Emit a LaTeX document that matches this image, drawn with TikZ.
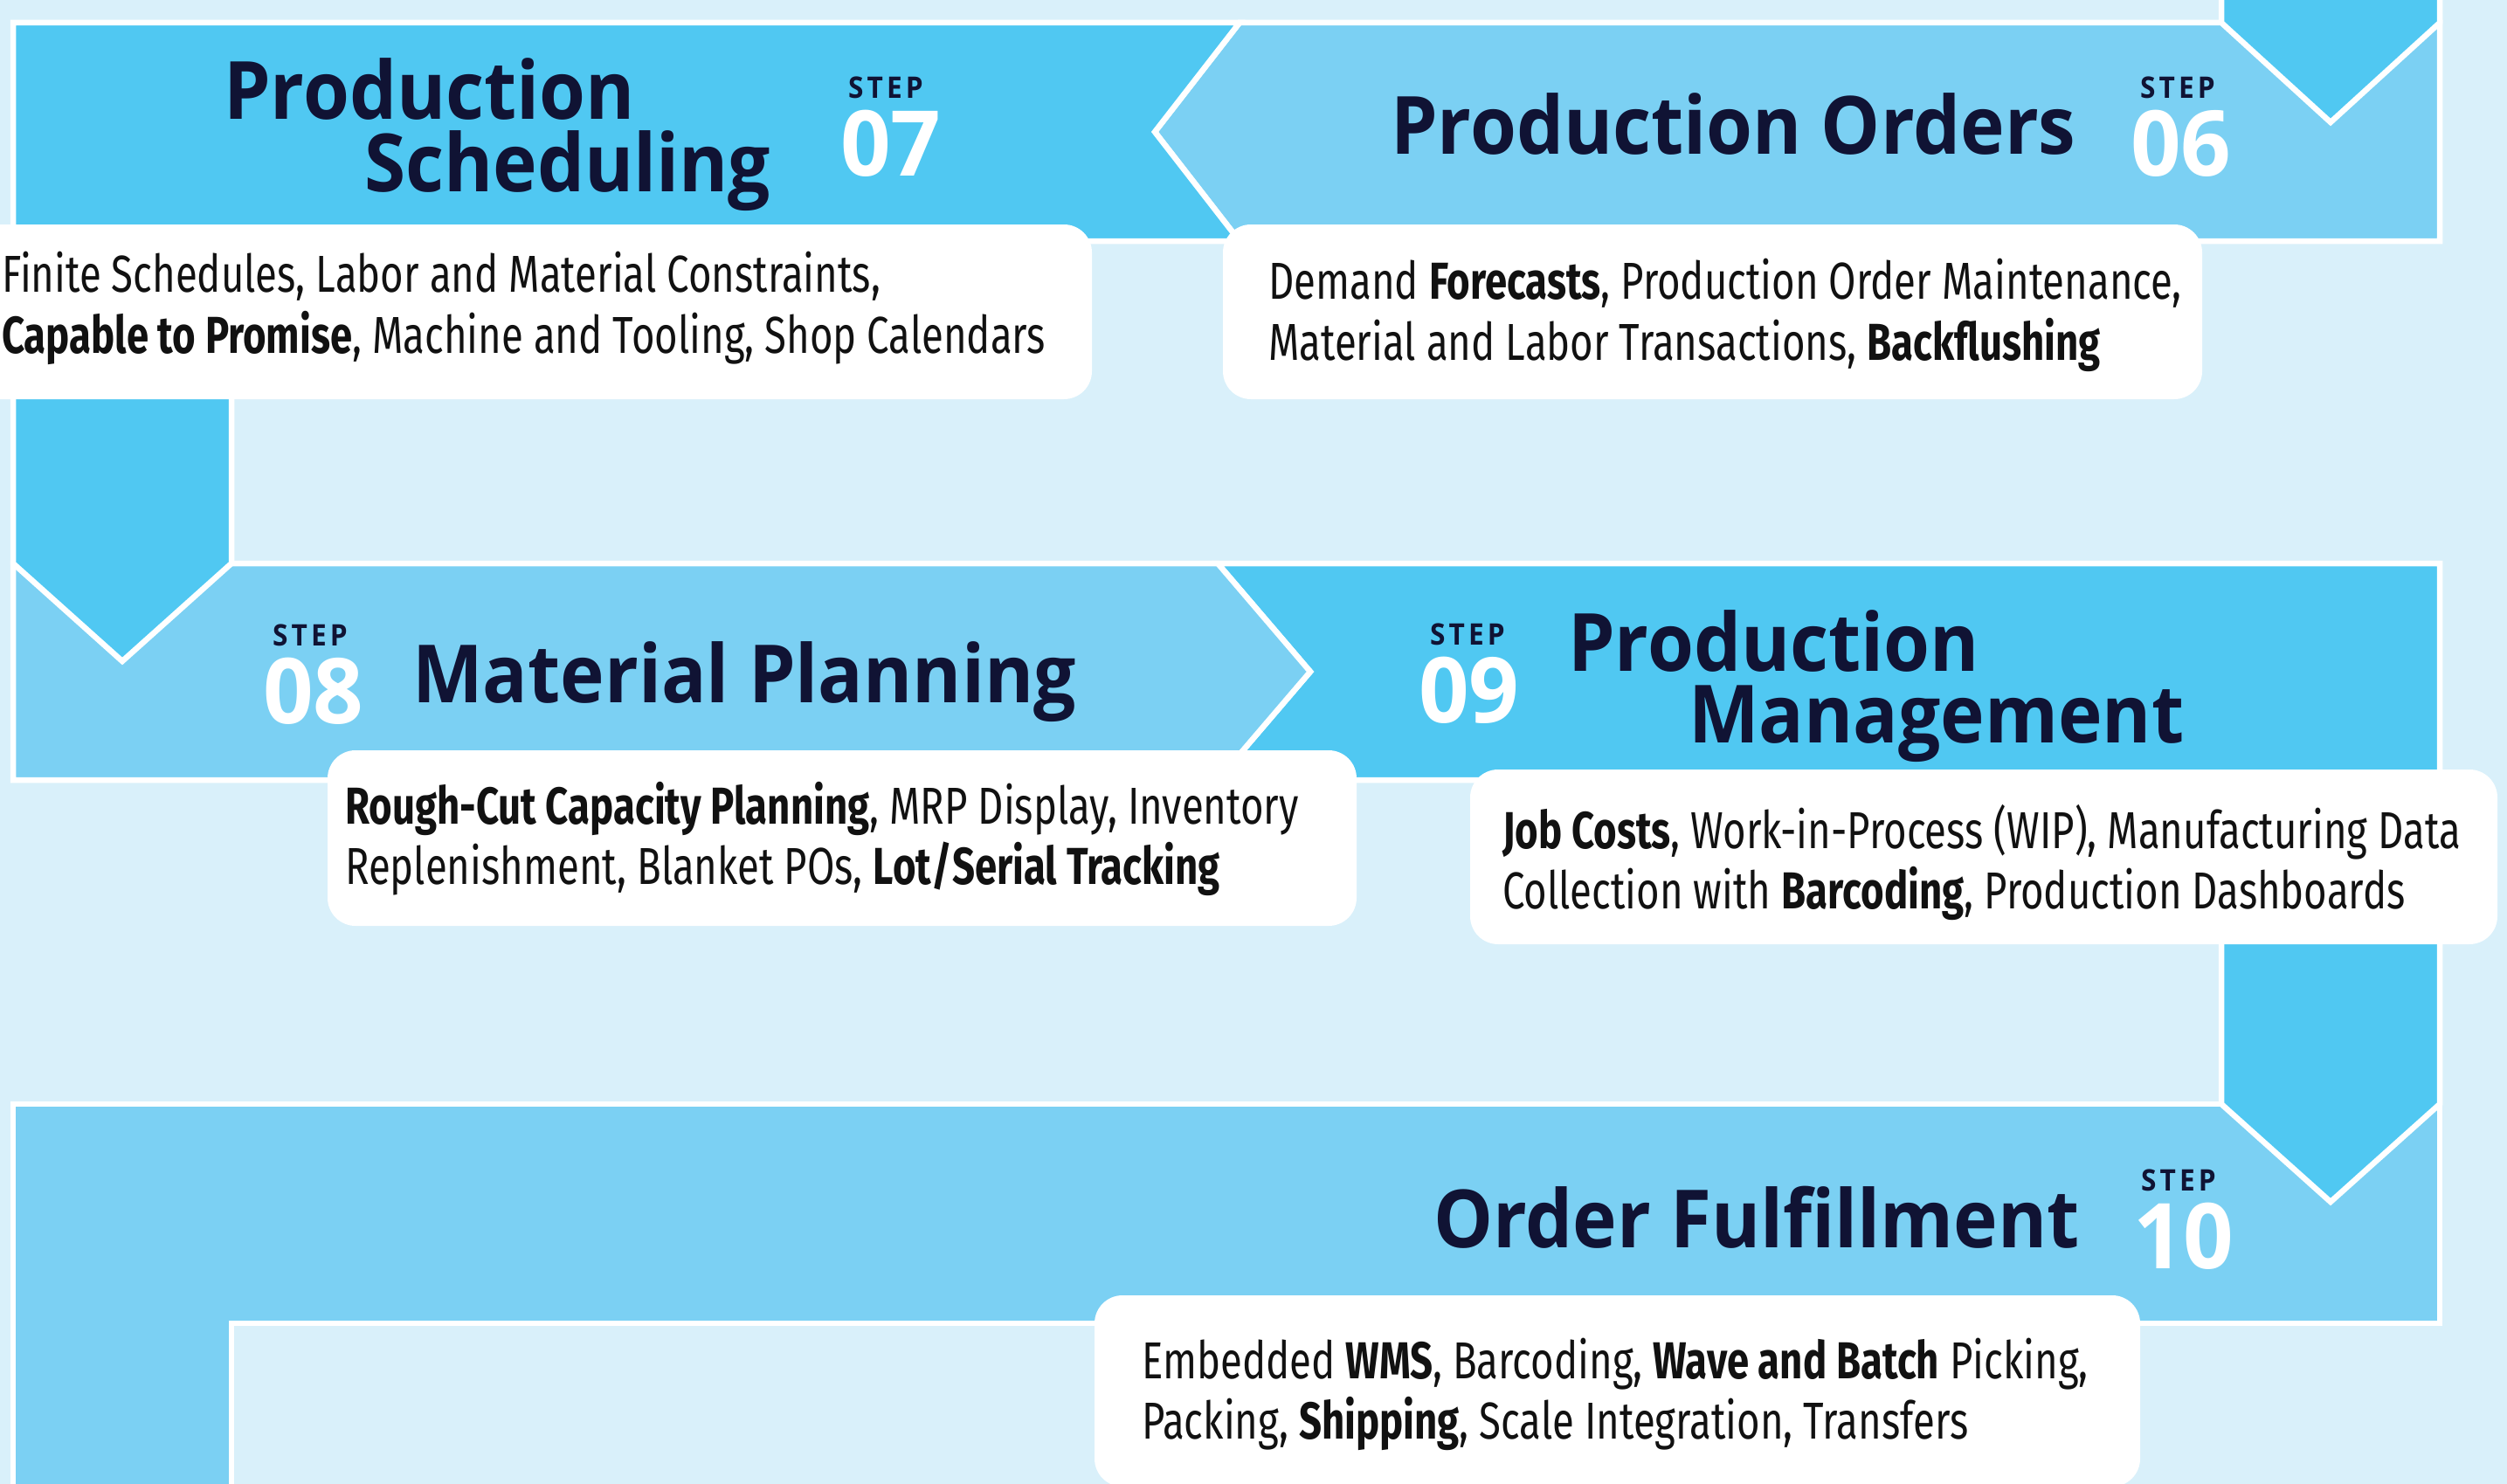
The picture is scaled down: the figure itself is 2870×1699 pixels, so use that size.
\documentclass[tikz,border=0pt]{standalone}
\usepackage{fontspec}
\newfontfamily\titlefont[FakeStretch=0.93]{Open Sans}
\newfontfamily\numfont[FakeStretch=0.97]{Open Sans}
\newfontfamily\bodyfont[FakeStretch=0.765]{Fira Sans}
\definecolor{bgc}{RGB}{217,240,250}
\definecolor{darkc}{RGB}{80,200,242}
\definecolor{lightc}{RGB}{123,208,243}
\definecolor{navy}{RGB}{16,19,52}
\definecolor{bodyc}{RGB}{17,17,17}
\begin{document}
\begin{tikzpicture}[x=1pt,y=-1pt,
  band/.style={draw=white,line width=6.5pt,line join=miter,miter limit=20},
  darkband/.style={band,fill=darkc},
  lightband/.style={band,fill=lightc},
  descbox/.style={rectangle,rounded corners=32pt,fill=white,draw=none,inner sep=0pt},
  ttl/.style={anchor=base west,inner sep=0pt,text=navy,font=\titlefont\bfseries\fontsize{92}{92}\selectfont},
  stp/.style={anchor=base west,inner sep=0pt,text=navy,font=\titlefont\bfseries\fontsize{34}{34}\selectfont\addfontfeature{LetterSpace=12}},
  num/.style={anchor=base west,inner sep=0pt,text=white,font=\numfont\bfseries\fontsize{104}{104}\selectfont},
  body/.style={anchor=base west,inner sep=0pt,text=bodyc,font=\bodyfont\fontsize{59.5}{59.5}\selectfont}]
\useasboundingbox (0,0) rectangle (2870,1699);
\clip (0,0) rectangle (2870,1699);
\fill[bgc] (0,0) rectangle (2870,1699);
% row 3 (step 10) with leg going down
\path[lightband] (15,1264) -- (2793,1264) -- (2793,1515) -- (265,1515) -- (265,1740) -- (15,1740) -- cycle;
% step 09 with connector into row 3
\path[darkband] (1394,645) -- (2793,645) -- (2793,1264) -- (2668,1376) -- (2543,1264) -- (2543,893) -- (1394,893) -- (1500,769) -- cycle;
% step 08
\path[lightband] (15,645) -- (1394,645) -- (1500,769) -- (1394,893) -- (15,893) -- cycle;
% step 06
\path[lightband] (1419,26) -- (2793,26) -- (2793,276) -- (1419,276) -- (1322,151) -- cycle;
% incoming arrow from step 05
\path[darkband] (2543,-20) -- (2543,26) -- (2668,140) -- (2793,26) -- (2793,-20);
% step 07 with connector into row 2
\path[darkband] (15,26) -- (1419,26) -- (1322,151) -- (1419,276) -- (265,276) -- (265,645) -- (140,757) -- (15,645) -- cycle;
% description boxes
\node[descbox,minimum width=1310pt,minimum height=200pt] (b07) at (595,357) {};
\node[descbox,minimum width=1121pt,minimum height=200pt] (b06) at (1960.5,357) {};
\node[descbox,minimum width=1178pt,minimum height=201pt] (b08) at (964,959.5) {};
\node[descbox,minimum width=1176pt,minimum height=200pt] (b09) at (2271,981) {};
\node[descbox,minimum width=1197pt,minimum height=219pt] (b10) at (1851.5,1592.5) {};
% step 07
\node[ttl] (t07a) at (256,137) {Production};
\node[ttl] (t07b) at (417,220) {Scheduling};
\node[stp] (s07) at (971,113) {STEP};
\node[num] (n07) at (962,202) {07};
\node[body] (d07a) at (2,334) {Finite Schedules, Labor and Material Constraints,};
\node[body] (d07b) at (2,404) {\textbf{Capable to Promise}, Machine and Tooling, Shop Calendars};
% step 06
\node[ttl] (t06) at (1592,177) {Production Orders};
\node[stp] (s06) at (2450,113) {STEP};
\node[num] (n06) at (2439,202) {06};
\node[body] (d06a) at (1452,342) {Demand \textbf{Forecasts}, Production Order Maintenance,};
\node[body] (d06b) at (1452,412) {Material and Labor Transactions, \textbf{Backflushing}};
% step 08
\node[stp] (s08) at (312,739) {STEP};
\node[num] (n08) at (301,828) {08};
\node[ttl] (t08) at (472,804) {Material Planning};
\node[body] (d08a) at (395,943) {\textbf{Rough-Cut Capacity Planning}, MRP Display, Inventory};
\node[body] (d08b) at (395,1012) {Replenishment, Blanket POs, \textbf{Lot/Serial Tracking}};
% step 09
\node[stp] (s09) at (1637,738) {STEP};
\node[num] (n09) at (1624,827) {09};
\node[ttl] (t09a) at (1795,768) {Production};
\node[ttl] (t09b) at (1933,850) {Management};
\node[body] (d09a) at (1720,971) {\textbf{Job Costs}, Work-in-Process (WIP), Manufacturing Data};
\node[body] (d09b) at (1720,1040) {Collection with \textbf{Barcoding}, Production Dashboards};
% step 10
\node[ttl] (t10) at (1641,1428) {Order Fulfillment};
\node[stp] (s10) at (2451,1363) {STEP};
\node[num] (n10) at (2442,1452) {10};
\node[body] (d10a) at (1307,1578) {Embedded \textbf{WMS}, Barcoding, \textbf{Wave and Batch} Picking,};
\node[body] (d10b) at (1307,1647) {Packing, \textbf{Shipping}, Scale Integration, Transfers};
\end{tikzpicture}
\end{document}
